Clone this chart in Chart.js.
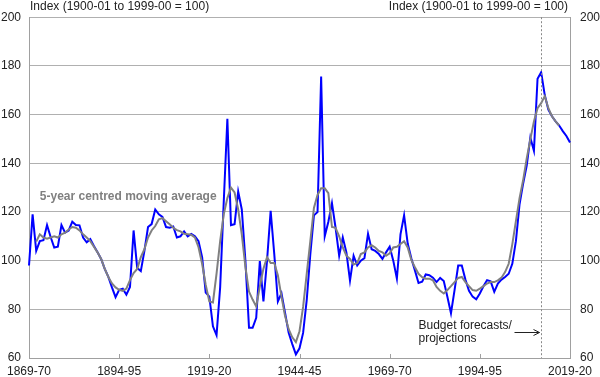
<!DOCTYPE html>
<html>
<head>
<meta charset="utf-8">
<script src="https://cdn.jsdelivr.net/npm/chart.js@4.4.1/dist/chart.umd.min.js"></script>
<style>
  html, body { margin: 0; padding: 0; background: #fff; }
  #wrap { width: 600px; height: 377px; }
</style>
</head>
<body>
<div id="wrap"><canvas id="chart" width="600" height="377"></canvas></div>
<script>
// Terms of trade, 1869-70 to 2019-20 (index 1900-01 to 1999-00 = 100)
var firstYear = 1869;
var lastYear = 2019;
var tickLabels = ['1869-70', '1894-95', '1919-20', '1944-45', '1969-70', '1994-95', '2019-20'];
var forecastStart = '2011-12';

// annual series, one value per year
var termsOfTrade = [
  98, 119, 104, 108, 108.4, 114.6, 109.7, 105.4, 105.7, 114.6,
  111.5, 112.4, 116, 114.6, 114.5, 109.5, 107.5, 108.8, 106, 103.4,
  100.7, 96.6, 93.3, 89, 85, 88, 88.5, 86, 89.2, 112.4,
  97, 95.7, 104, 113.8, 115, 121, 119, 118, 113.8, 113.5,
  114, 109.5, 110, 112, 110, 111, 110, 108, 101.4, 86.9,
  85.2, 73, 69.4, 89, 124.3, 158.3, 114.6, 115, 128.4, 121,
  100, 72.4, 72.4, 76.5, 99.8, 83.2, 100, 120.5, 102.8, 83.2,
  86.6, 78.5, 70.4, 65.7, 61.5, 64, 70.3, 83.8, 102.7, 118.6,
  120, 175.6, 110, 116, 123.6, 113.5, 102, 109.5, 103.4, 91.8,
  102, 98, 100, 101, 111, 104.7, 104, 102.7, 100.7, 103.4,
  105.7, 100, 92.6, 110.8, 118.6, 107, 101, 96, 90.8, 91.3,
  94.3, 94, 93, 91.2, 92.9, 91.6, 85.2, 78.4, 88, 98,
  98, 92.2, 87.6, 85.2, 84.1, 86.5, 89.5, 92, 91.5, 87.2,
  90.6, 92.2, 93.3, 94.6, 98.7, 108, 123, 131.6, 139, 150.5,
  145.1, 174.7, 177.4, 168, 162, 159.3, 157.2, 155.5, 153.2, 151.2,
  148.5
];

// 5-year centred moving average
var movingAverage = [
  null, null, 107.8, 110.8, 109.5, 109, 109.5, 110, 109.5, 110.8,
  111.5, 112.8, 113.8, 113.5, 112.4, 110.8, 109.5, 108, 105.7, 103.4,
  100.7, 96.6, 93.3, 90.6, 89, 88, 87.6, 88.5, 92, 94.9,
  96.6, 101.4, 104.7, 109.5, 112.4, 114.2, 117, 117.5, 116.2, 114.9,
  113.5, 112.5, 112, 111, 110.8, 110.6, 109.5, 105.5, 98.7, 90,
  83.2, 82.8, 94.7, 108, 119, 125.7, 130, 128, 121, 110.8,
  97.4, 87.3, 84, 81.2, 89.3, 96.7, 101.4, 99, 99, 94,
  85.2, 77.2, 71.8, 68.5, 66.5, 71, 81, 94.6, 108, 121.6,
  127, 129.7, 129.7, 127.7, 113.8, 113.5, 110, 105.4, 102, 100.7,
  98.4, 99, 102.7, 103.4, 105.4, 106.3, 105.4, 104, 103.4, 102,
  103, 105.4, 105.7, 106.8, 108, 105.4, 100.3, 97.3, 94.6, 93.2,
  92.6, 92.6, 91.9, 89.2, 87.6, 86.5, 87.9, 89.5, 91.2, 92.9,
  93.3, 91.2, 89.5, 87.9, 87.6, 88.5, 89.5, 90.6, 91.2, 91.2,
  91.9, 93, 95.3, 98.7, 106.7, 116.2, 125.6, 133, 142, 149.8,
  157.2, 162.6, 164.7, 167.6, 162.6, 159.3, 157.2, 155.5, null, null,
  null
];

var years = [];
for (var y = firstYear; y <= lastYear; y++) {
  years.push(y + '-' + String((y + 1) % 100).padStart(2, '0'));
}

var FONT = '"Liberation Sans", Arial, sans-serif';
Chart.defaults.font.family = FONT;
Chart.defaults.font.size = 12;
Chart.defaults.color = '#222';

// extra bits drawn over the chart: tick marks, titles, dotted forecast line, notes
var annotations = {
  id: 'annotations',
  afterDraw: function(chart) {
    var ctx = chart.ctx;
    var xs = chart.scales.x, ys = chart.scales.y;
    var area = chart.chartArea;
    ctx.save();

    // small ticks inside the x axis
    ctx.strokeStyle = '#a0a0a0';
    ctx.lineWidth = 1;
    tickLabels.forEach(function(l) {
      var px = Math.round(xs.getPixelForValue(years.indexOf(l))) + 0.5;
      ctx.beginPath();
      ctx.moveTo(px, area.bottom);
      ctx.lineTo(px, area.bottom - 4);
      ctx.stroke();
    });

    // forecast divider
    var fx = Math.round(xs.getPixelForValue(years.indexOf(forecastStart))) + 0.5;
    ctx.strokeStyle = '#888';
    ctx.setLineDash([2, 2]);
    ctx.beginPath();
    ctx.moveTo(fx, area.top);
    ctx.lineTo(fx, area.bottom);
    ctx.stroke();
    ctx.setLineDash([]);

    // axis titles
    ctx.fillStyle = '#222';
    ctx.font = '12px ' + FONT;
    ctx.textBaseline = 'alphabetic';
    ctx.textAlign = 'left';
    ctx.fillText('Index (1900-01 to 1999-00 = 100)', area.left + 1, 10);
    ctx.textAlign = 'right';
    ctx.fillText('Index (1900-01 to 1999-00 = 100)', area.right - 2, 10);

    // series note
    ctx.textAlign = 'left';
    ctx.fillStyle = '#808080';
    ctx.font = 'bold 12px ' + FONT;
    ctx.fillText('5-year centred moving average', xs.getPixelForValue(3), ys.getPixelForValue(125));

    // forecast note and arrow
    ctx.fillStyle = '#222';
    ctx.font = '12px ' + FONT;
    var tx = xs.getPixelForValue(108);
    ctx.fillText('Budget forecasts/', tx, ys.getPixelForValue(72));
    ctx.fillText('projections', tx, ys.getPixelForValue(66.4));
    var ay = Math.round(ys.getPixelForValue(70.8)) + 0.5;
    var ax1 = fx - 2, ax0 = ax1 - 25;
    ctx.strokeStyle = '#222';
    ctx.beginPath();
    ctx.moveTo(ax0, ay);
    ctx.lineTo(ax1, ay);
    ctx.moveTo(ax1 - 6, ay - 3);
    ctx.lineTo(ax1, ay);
    ctx.lineTo(ax1 - 6, ay + 3);
    ctx.stroke();

    ctx.restore();
  }
};

new Chart(document.getElementById('chart'), {
  type: 'line',
  data: {
    labels: years,
    datasets: [{
      label: '5-year centred moving average',
      data: movingAverage,
      borderColor: '#808080',
      borderWidth: 2,
      pointRadius: 0,
      tension: 0,
      fill: false,
      yAxisID: 'y'
    }, {
      label: 'Terms of trade',
      data: termsOfTrade,
      borderColor: '#0000ff',
      borderWidth: 2,
      pointRadius: 0,
      tension: 0,
      fill: false,
      yAxisID: 'y'
    }]
  },
  options: {
    responsive: false,
    animation: false,
    devicePixelRatio: 1,
    layout: { padding: { top: 13, left: 0, right: 0, bottom: 0 } },
    plugins: {
      legend: { display: false },
      tooltip: { enabled: false }
    },
    scales: {
      x: {
        type: 'category',
        offset: false,
        grid: { display: false, drawTicks: false },
        border: { display: true, color: '#a0a0a0', width: 1 },
        ticks: {
          autoSkip: false,
          maxRotation: 0,
          minRotation: 0,
          padding: 6,
          color: '#222',
          callback: function(val) {
            var l = this.getLabelForValue(val);
            return tickLabels.indexOf(l) >= 0 ? l : '';
          }
        },
        afterFit: function(s) { s.height = 19; }
      },
      y: {
        position: 'left',
        min: 60,
        max: 200,
        ticks: { stepSize: 20, padding: 8, color: '#222' },
        grid: { color: '#b0b0b0', lineWidth: 1, drawTicks: false },
        border: { display: true, color: '#a0a0a0' },
        afterFit: function(s) { s.width = 29; }
      },
      y2: {
        position: 'right',
        min: 60,
        max: 200,
        ticks: { stepSize: 20, padding: 10, color: '#222' },
        grid: { drawOnChartArea: false, drawTicks: false },
        border: { display: true, color: '#a0a0a0' },
        afterFit: function(s) { s.width = 30; }
      }
    }
  },
  plugins: [annotations]
});
</script>
</body>
</html>
